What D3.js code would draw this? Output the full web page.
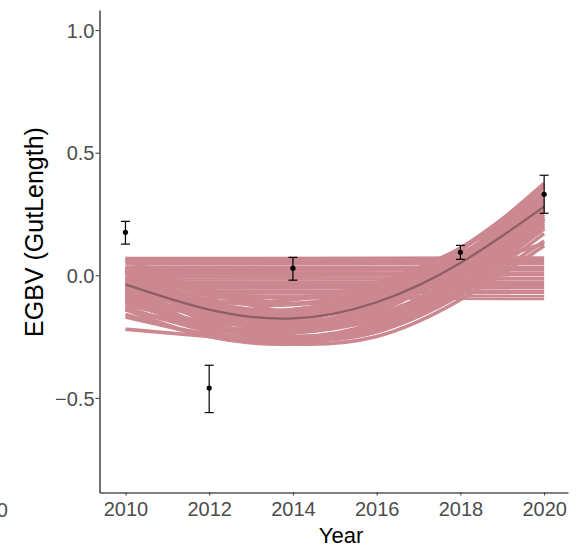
<!DOCTYPE html>
<html>
<head>
<meta charset="utf-8">
<script src="https://cdn.jsdelivr.net/npm/d3@7"></script>
<style>
  body { margin: 0; background: #fff; }
  svg { display: block; font-family: "Liberation Sans", Arial, sans-serif; }
</style>
</head>
<body>
<svg id="chart" width="578" height="552"></svg>
<script>
// Observed yearly estimates with error bars
const obsYears = [2010, 2012, 2014, 2018, 2020];
const obsMean  = [0.175, -0.46, 0.029, 0.094, 0.33];
const obsLow   = [0.127, -0.56, -0.02, 0.065, 0.253];
const obsHigh  = [0.22, -0.367, 0.073, 0.122, 0.408];

// Years at which each posterior draw is recorded
const drawYears = [2010, 2012, 2014, 2016, 2018, 2020];

// Quadratic-trend posterior draws (value at each of drawYears)
const trendDraws = [
  [-0.04, -0.14, -0.175, -0.11, 0.05, 0.28],
  [-0.01, -0.11, -0.145, -0.08, 0.08, 0.31],
  [-0.07, -0.17, -0.205, -0.14, 0.02, 0.25],
  [0.02, -0.08, -0.115, -0.05, 0.11, 0.34],
  [-0.10, -0.20, -0.235, -0.17, -0.01, 0.22],
  [-0.13, -0.23, -0.265, -0.20, -0.04, 0.19],
  [-0.09, -0.17, -0.185, -0.10, 0.08, 0.33],
  [0.01, -0.11, -0.165, -0.12, 0.02, 0.23],
  [-0.04, -0.12, -0.14, -0.06, 0.11, 0.36],
  [-0.04, -0.16, -0.21, -0.16, -0.01, 0.20],
  [-0.14, -0.22, -0.235, -0.15, 0.03, 0.28],
  [0.06, -0.06, -0.115, -0.07, 0.07, 0.28],
  [0.02, -0.14, -0.21, -0.15, 0.05, 0.34],
  [-0.10, -0.14, -0.14, -0.07, 0.05, 0.22],
  [-0.04, -0.19, -0.25, -0.19, 0.00, 0.28],
  [-0.08, -0.11, -0.10, -0.04, 0.09, 0.24],
  [-0.14, -0.25, -0.27, -0.20, -0.01, 0.26],
  [-0.11, -0.15, -0.15, -0.06, 0.11, 0.33],
  [0.03, -0.13, -0.20, -0.16, -0.01, 0.23],
  [-0.16, -0.25, -0.28, -0.21, -0.04, 0.20],
  [0.03, -0.06, -0.09, -0.03, 0.11, 0.31],
  [0.01, -0.19, -0.27, -0.21, -0.04, 0.23],
  [-0.14, -0.21, -0.21, -0.11, 0.08, 0.34],
  [0.07, -0.07, -0.15, -0.11, 0.02, 0.23],
  [-0.10, -0.23, -0.28, -0.25, -0.10, 0.12],
  [-0.22, -0.25, -0.27, -0.23, -0.08, 0.14],
  [-0.06, -0.14, -0.155, -0.07, 0.10, 0.375],
  [-0.02, -0.10, -0.12, -0.06, 0.08, 0.29],
  [-0.05, -0.13, -0.15, -0.09, 0.02, 0.13],
  [-0.12, -0.19, -0.20, -0.13, 0.04, 0.30],
  [-0.09, -0.20, -0.23, -0.18, -0.02, 0.24],
  [-0.06, -0.18, -0.22, -0.17, 0.01, 0.27],
  [-0.11, -0.21, -0.25, -0.21, -0.05, 0.21],
  [-0.03, -0.15, -0.19, -0.13, 0.04, 0.30],
  [-0.08, -0.16, -0.17, -0.09, 0.07, 0.31],
  [-0.17, -0.24, -0.26, -0.22, -0.07, 0.17],
  [-0.05, -0.21, -0.26, -0.23, -0.06, 0.19]
];

// Flat (no-trend) posterior draws: value at 2010 and at 2020
const flatStart = [0.07, 0.062, 0.055, 0.045, 0.035, 0.027, 0.018, 0.01, 0.0, -0.008, -0.017, -0.026, -0.035, -0.044, -0.053, -0.062, -0.072, -0.081, -0.09];
const flatEnd   = [0.072, 0.062, 0.054, 0.047, 0.035, 0.026, 0.02, 0.008, 0.0, -0.01, -0.017, -0.028, -0.035, -0.045, -0.053, -0.064, -0.072, -0.085, -0.097];

// Posterior mean trend
const meanTrend = [-0.037, -0.14, -0.176, -0.11, 0.05, 0.28];

const xTicks = [2010, 2012, 2014, 2016, 2018, 2020];
const yTicks = [-0.5, 0.0, 0.5, 1.0];

const svg = d3.select("#chart");

const x = d3.scaleLinear().domain([2009.38, 2020.57]).range([99.5, 568]);
const y = d3.scaleLinear().domain([-0.886, 1.082]).range([492.5, 10]);

const bandColor = "#cc8890";

// flat draws
const flatLine = d3.line().x(d => x(d[0])).y(d => y(d[1]));
svg.append("g")
  .selectAll("path")
  .data(flatStart.map((s, i) => [[2010, s], [2020, flatEnd[i]]]))
  .join("path")
  .attr("d", flatLine)
  .attr("fill", "none")
  .attr("stroke", bandColor)
  .attr("stroke-width", 2.6);

// trend draws
const trendLine = d3.line()
  .x((d, i) => x(drawYears[i]))
  .y(d => y(d))
  .curve(d3.curveNatural);

svg.append("g")
  .selectAll("path")
  .data(trendDraws)
  .join("path")
  .attr("d", trendLine)
  .attr("fill", "none")
  .attr("stroke", bandColor)
  .attr("stroke-width", 3.6);

// mean trend
svg.append("path")
  .attr("d", trendLine(meanTrend))
  .attr("fill", "none")
  .attr("stroke", "#8c5e66")
  .attr("stroke-width", 2.2);

// error bars
const obs = obsYears.map((yr, i) => ({ yr, m: obsMean[i], lo: obsLow[i], hi: obsHigh[i] }));
const eb = svg.append("g").attr("stroke", "#000").attr("stroke-width", 1.2);
eb.selectAll("line.v").data(obs).join("line")
  .attr("class", "v")
  .attr("x1", d => x(d.yr)).attr("x2", d => x(d.yr))
  .attr("y1", d => y(d.lo)).attr("y2", d => y(d.hi));
eb.selectAll("line.t").data(obs).join("line")
  .attr("class", "t")
  .attr("x1", d => x(d.yr) - 4.5).attr("x2", d => x(d.yr) + 4.5)
  .attr("y1", d => y(d.hi)).attr("y2", d => y(d.hi));
eb.selectAll("line.b").data(obs).join("line")
  .attr("class", "b")
  .attr("x1", d => x(d.yr) - 4.5).attr("x2", d => x(d.yr) + 4.5)
  .attr("y1", d => y(d.lo)).attr("y2", d => y(d.lo));
svg.append("g").selectAll("circle").data(obs).join("circle")
  .attr("cx", d => x(d.yr)).attr("cy", d => y(d.m))
  .attr("r", 2.6).attr("fill", "#000");

// axes
const xAxis = svg.append("g")
  .attr("transform", `translate(0,${y.range()[0]})`)
  .call(d3.axisBottom(x).tickValues(xTicks).tickFormat(d3.format("d")).tickSize(3).tickPadding(6).tickSizeOuter(0));
const yAxis = svg.append("g")
  .attr("transform", `translate(${x.range()[0]},0)`)
  .call(d3.axisLeft(y).tickValues(yTicks).tickFormat(d3.format(".1f")).tickSize(4).tickPadding(1).tickSizeOuter(0));

[xAxis, yAxis].forEach(g => {
  g.select(".domain").attr("stroke", "#000").attr("stroke-width", 1.1);
  g.selectAll(".tick line").attr("stroke", "#333");
  g.selectAll(".tick text").attr("fill", "#4d4d4d").attr("font-size", 20)
    .attr("font-family", "Liberation Sans, Arial, sans-serif");
});
yAxis.selectAll(".tick text").text(d => d < 0 ? "\u2212" + d3.format(".1f")(-d) : d3.format(".1f")(d))
  .attr("dy", "0.36em");

// axis titles
svg.append("text")
  .attr("x", 341).attr("y", 543)
  .attr("text-anchor", "middle")
  .attr("font-size", 22)
  .attr("fill", "#000")
  .text("Year");

svg.append("text")
  .attr("transform", "translate(43,232) rotate(-90)")
  .attr("text-anchor", "middle")
  .attr("font-size", 25)
  .attr("fill", "#000")
  .text("EGBV (GutLength)");

// edge of the neighbouring panel's axis label
svg.append("text")
  .attr("x", 8).attr("y", 517)
  .attr("text-anchor", "end")
  .attr("font-size", 20)
  .attr("fill", "#4d4d4d")
  .text("2020");
</script>
</body>
</html>
